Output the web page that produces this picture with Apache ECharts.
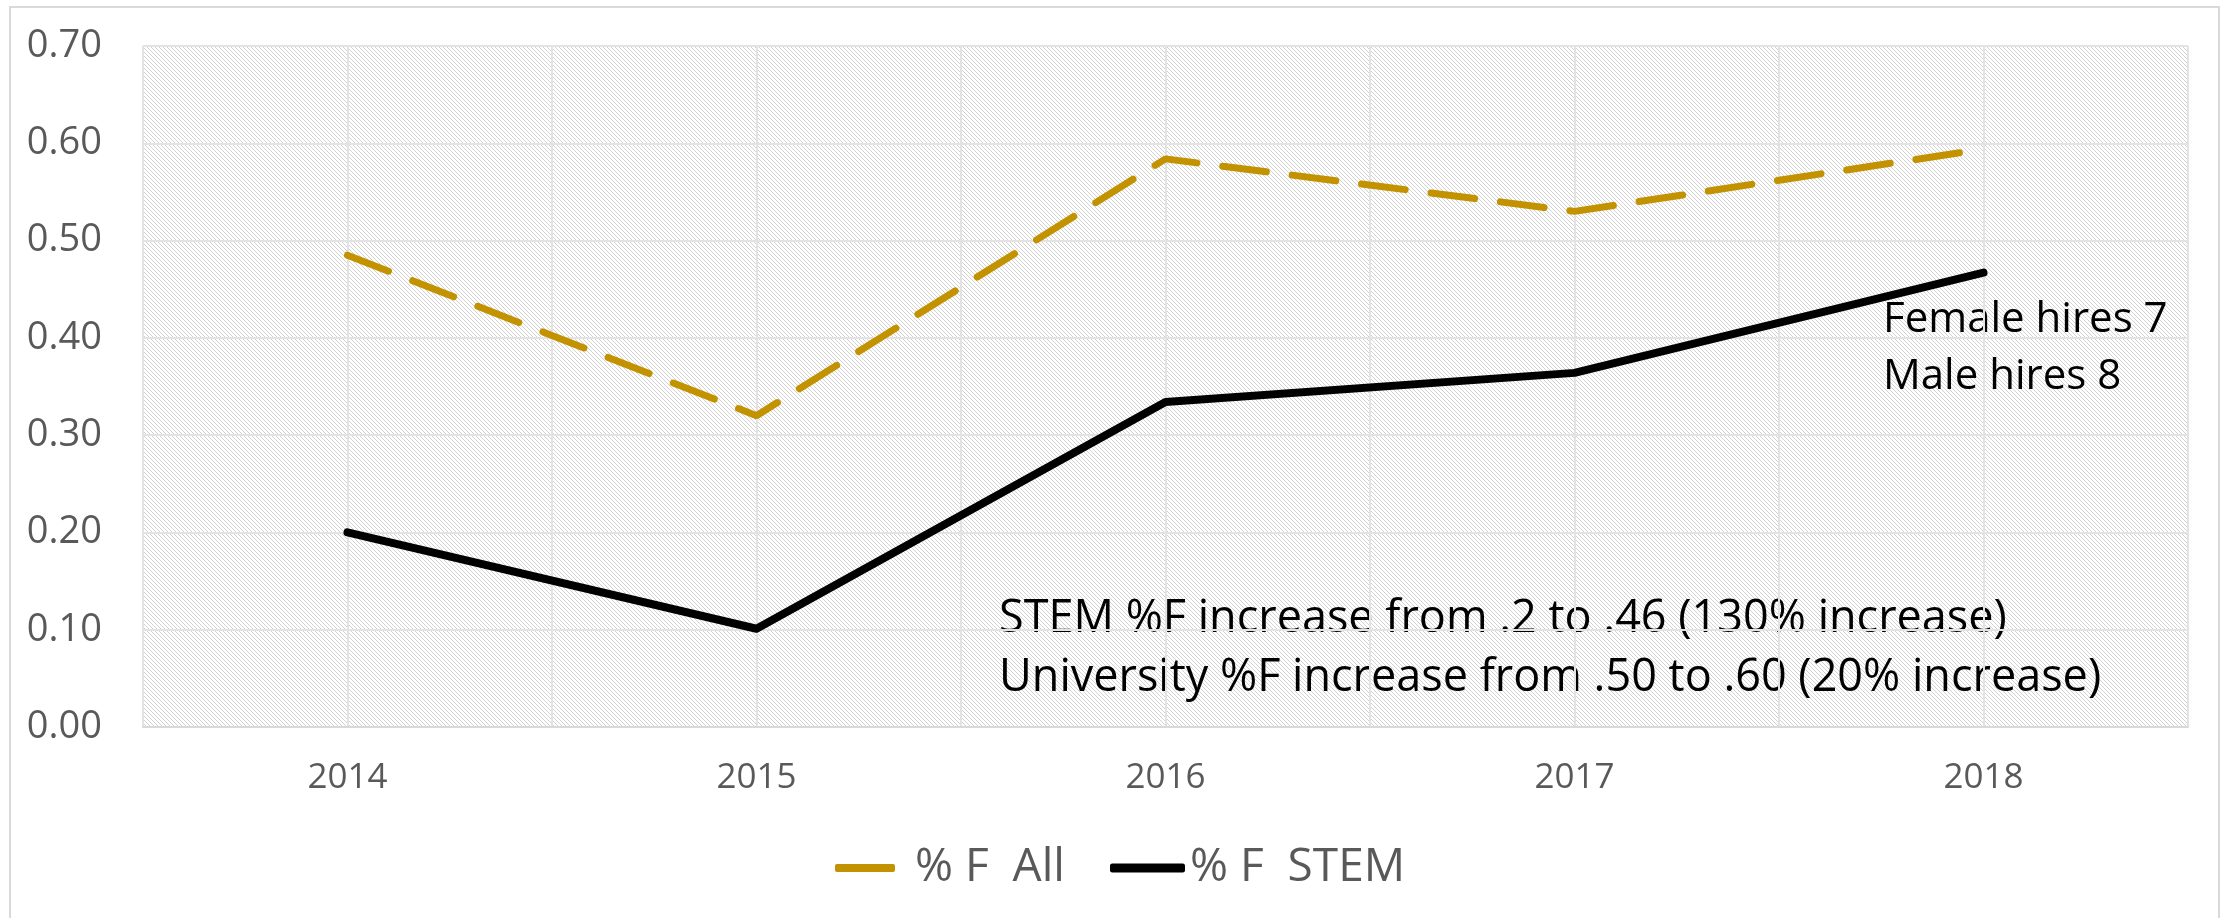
<!DOCTYPE html>
<html>
<head>
<meta charset="utf-8">
<script src="https://cdn.jsdelivr.net/npm/echarts@6/dist/echarts.min.js"></script>
<style>
  html, body { margin: 0; padding: 0; background: #fff; }
  #chart { width: 2221px; height: 918px; }
</style>
</head>
<body>
<div id="chart"></div>
<script>
// data
const years = ["2014", "2015", "2016", "2017", "2018"];
const pctFAll = [0.485, 0.320, 0.584, 0.530, 0.594];
const pctFStem = [0.200, 0.101, 0.334, 0.364, 0.467];
const yTicks = { min: 0, max: 0.7, step: 0.1 };
const noteStem = "STEM %F increase from .2 to .46 (130% increase)\nUniversity %F increase from .50 to .60 (20% increase)";
const noteHires = "Female hires 7\nMale hires 8";

// diagonal hatch for the plot area
function makeHatch() {
  const c = document.createElement("canvas");
  c.width = 8;
  c.height = 8;
  const ctx = c.getContext("2d");
  ctx.strokeStyle = "#d2d2d2";
  ctx.lineWidth = 1;
  for (let o = -8; o <= 8; o += 4) {
    ctx.beginPath();
    ctx.moveTo(o, 0);
    ctx.lineTo(o + 8, 8);
    ctx.stroke();
  }
  return c;
}

const chart = echarts.init(document.getElementById("chart"));
const font = "'Open Sans', sans-serif";
const gridLine = { show: true, lineStyle: { color: "#e3e3e3", width: 2 } };

chart.setOption({
  animation: false,
  grid: {
    left: 143,
    right: 33,
    top: 46,
    bottom: 191,
    show: true,
    backgroundColor: { image: makeHatch(), repeat: "repeat" },
    borderColor: "#e0e0e0",
    borderWidth: 1,
  },
  xAxis: [
    {
      type: "category",
      data: years,
      boundaryGap: true,
      axisLine: { lineStyle: { color: "#d9d9d9", width: 2 } },
      axisTick: { show: false },
      axisLabel: { color: "#595959", fontSize: 35, fontFamily: font, margin: 34 },
      splitLine: { show: false },
    },
    {
      // half-category vertical grid lines
      type: "value",
      position: "top",
      min: 0,
      max: years.length * 2,
      interval: 1,
      axisLine: { show: false },
      axisTick: { show: false },
      axisLabel: { show: false },
      splitLine: gridLine,
    },
  ],
  yAxis: {
    type: "value",
    min: yTicks.min,
    max: yTicks.max,
    interval: yTicks.step,
    axisLine: { show: false },
    axisTick: { show: false },
    axisLabel: {
      color: "#595959",
      fontSize: 38,
      fontFamily: font,
      margin: 41,
      formatter: (v) => v.toFixed(2),
    },
    splitLine: gridLine,
  },
  legend: [
    {
      data: ["% F  All"],
      icon: "roundRect",
      left: 830,
      top: 840,
      itemWidth: 60,
      itemHeight: 8,
      itemStyle: { color: "#C39200", borderWidth: 0 },
      textStyle: { color: "#595959", fontSize: 46, fontFamily: font, padding: [0, 0, 0, 15] },
    },
    {
      data: ["% F  STEM"],
      icon: "roundRect",
      left: 1105,
      top: 840,
      itemWidth: 75,
      itemHeight: 9,
      itemStyle: { color: "#000", borderWidth: 0 },
      textStyle: { color: "#595959", fontSize: 46, fontFamily: font },
    },
  ],
  series: [
    {
      name: "% F  All",
      type: "line",
      data: pctFAll,
      symbol: "none",
      lineStyle: { color: "#C39200", width: 7, type: [44, 26], cap: "round" },
      itemStyle: { color: "#C39200" },
    },
    {
      name: "% F  STEM",
      type: "line",
      data: pctFStem,
      symbol: "none",
      lineStyle: { color: "#000", width: 8, cap: "round", join: "round" },
      itemStyle: { color: "#000" },
    },
  ],
  graphic: [
    {
      type: "rect",
      shape: { x: 10, y: 7, width: 2209, height: 930 },
      style: { fill: "none", stroke: "#d9d9d9", lineWidth: 2 },
      silent: true,
      z: -10,
    },
    {
      type: "text",
      left: 999,
      top: 590,
      style: { text: noteStem, font: "45px " + font, fill: "#000", lineHeight: 59 },
    },
    {
      type: "text",
      left: 1883,
      top: 292,
      style: { text: noteHires, font: "42px " + font, fill: "#000", lineHeight: 57 },
    },
  ],
});
</script>
</body>
</html>
